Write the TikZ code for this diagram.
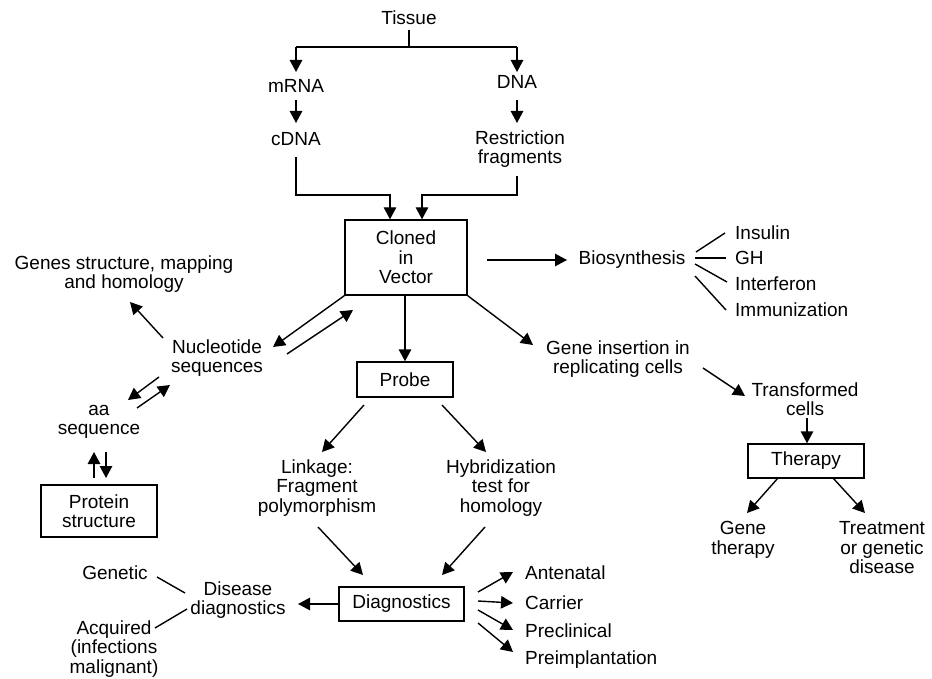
\documentclass[tikz,border=0pt]{standalone}
\usepackage{fontspec}
\setmainfont{Liberation Sans}
\usetikzlibrary{arrows.meta}
\begin{document}
\begin{tikzpicture}[x=1pt,y=-1pt,
  every node/.style={font=\fontsize{19}{19.5}\selectfont, inner sep=0pt, align=center},
  box/.style={draw, line width=1.4pt, inner sep=0pt},
  ln/.style={line width=1.4pt},
  arr/.style={line width=1.4pt, -{Triangle[length=12pt,width=12.5pt]}}]
\useasboundingbox (0,0) rectangle (932,679);
% nodes
\node (tissue) at (409,18) {Tissue};
\node (mrna) at (296,86) {mRNA};
\node (dna) at (517,82) {DNA};
\node (cdna) at (296,139) {cDNA};
\node (restr) at (520,149) {Restriction\\fragments};
\node[box, minimum width=122pt, minimum height=75pt] (clone) at (406,257.5) {Cloned\\in\\Vector};
\node (bio) at (632,260) {Biosynthesis};
\node[anchor=west] (insulin) at (735,233) {Insulin};
\node[anchor=west] (gh) at (735,258) {GH};
\node[anchor=west] (interferon) at (735,284) {Interferon};
\node[anchor=west] (immun) at (735,310) {Immunization};
\node (geneins) at (618,359) {Gene insertion in\\replicating cells};
\node (transf) at (805,399) {Transformed\\cells};
\node[box, minimum width=116pt, minimum height=34pt] (therapy) at (806,461) {Therapy};
\node (genether) at (743,540) {Gene\\therapy};
\node (treat) at (882,548) {Treatment\\or genetic\\disease};
\node[box, minimum width=96pt, minimum height=35pt] (probe) at (405,379.5) {Probe};
\node (genes) at (124,274) {Genes structure, mapping\\and homology};
\node (nuc) at (217,358) {Nucleotide\\sequences};
\node (aa) at (99,422) {aa\\sequence};
\node[box, minimum width=116pt, minimum height=52pt] (protein) at (99,511) {Protein\\structure};
\node (linkage) at (317,488) {Linkage:\\Fragment\\polymorphism};
\node (hybrid) at (501,488) {Hybridization\\test for\\homology};
\node[box, minimum width=125pt, minimum height=34pt] (diag) at (401.5,604) {Diagnostics};
\node (disease) at (238,600) {Disease\\diagnostics};
\node (genetic) at (115,573) {Genetic};
\node (acquired) at (114,649) {Acquired\\(infections\\malignant)};
\node[anchor=west] (antenatal) at (525,573) {Antenatal};
\node[anchor=west] (carrier) at (525,603) {Carrier};
\node[anchor=west] (preclin) at (525,631) {Preclinical};
\node[anchor=west] (preimpl) at (525,660) {Preimplantation};
% connectors
\draw[ln] ([shift={(0,12)}]tissue.center) -- ([shift={(0,29)}]tissue.center);
\draw[arr] ([shift={(-113,29)}]tissue.center) -- ([shift={(0,-14)}]mrna.center);
\draw[arr] ([shift={(108,29)}]tissue.center) -- ([shift={(0,-10)}]dna.center);
\draw[ln] ([shift={(-113,29)}]tissue.center) -- ([shift={(108,29)}]tissue.center);
\draw[arr] ([shift={(0,14)}]mrna.center) -- ([shift={(0,-16)}]cdna.center);
\draw[arr] ([shift={(0,18)}]dna.center) -- ([shift={(-3,-26)}]restr.center);
\draw[arr] ([shift={(0,18)}]cdna.center) |- ([shift={(-16,-62.5)}]clone.center) -- ([xshift=-16]clone.north);
\draw[arr] ([shift={(-3,27)}]restr.center) |- ([shift={(16,-62.5)}]clone.center) -- ([xshift=16]clone.north);
\draw[arr] ([shift={(81,2.5)}]clone.center) -- ([shift={(-65,0)}]bio.center);
\draw[ln] ([shift={(64,-8)}]bio.center) -- ([xshift=-10]insulin.west);
\draw[ln] ([shift={(63,-2)}]bio.center) -- ([xshift=-9]gh.west);
\draw[ln] ([shift={(63,4)}]bio.center) -- ([shift={(-8,-2)}]interferon.west);
\draw[ln] ([shift={(63,16)}]bio.center) -- ([xshift=-9]immun.west);
\draw[arr] (clone.south east) -- ([shift={(-85,-14)}]geneins.center);
\draw[arr] ([shift={(85,9)}]geneins.center) -- ([shift={(-60,-3)}]transf.center);
\draw[arr] ([shift={(2,19)}]transf.center) -- ([xshift=1]therapy.north);
\draw[arr] ([shift={(-28,17)}]therapy.center) -- ([shift={(4,-27)}]genether.center);
\draw[arr] ([shift={(27,17)}]therapy.center) -- ([shift={(-17,-35)}]treat.center);
\draw[arr] ([xshift=-1]clone.south) -- (probe.north);
\draw[arr] (clone.south west) -- ([shift={(56,-11)}]nuc.center);
\draw[arr] ([shift={(70,-4)}]nuc.center) -- ([shift={(-53,52.5)}]clone.center);
\draw[arr] ([shift={(-54,-20)}]nuc.center) -- ([shift={(6,28)}]genes.center);
\draw[arr] ([shift={(-58,19)}]nuc.center) -- ([shift={(29,-22)}]aa.center);
\draw[arr] ([shift={(38,-14)}]aa.center) -- ([shift={(-47,27)}]nuc.center);
\draw[arr] ([shift={(-5,-33)}]protein.center) -- ([shift={(-5,30)}]aa.center);
\draw[arr] ([shift={(7,30)}]aa.center) -- ([shift={(7,-33)}]protein.center);
\draw[arr] ([shift={(-41,25.5)}]probe.center) -- ([shift={(5,-36)}]linkage.center);
\draw[arr] ([shift={(37,25.5)}]probe.center) -- ([shift={(-15,-36)}]hybrid.center);
\draw[arr] ([shift={(1,39)}]linkage.center) -- ([shift={(-38.5,-29)}]diag.center);
\draw[arr] ([shift={(-16,39)}]hybrid.center) -- ([shift={(40.5,-29)}]diag.center);
\draw[arr] (diag.west) -- ([shift={(60,4)}]disease.center);
\draw[ln] ([shift={(42,4)}]genetic.center) -- ([shift={(-53,-7)}]disease.center);
\draw[ln] ([shift={(41,-21)}]acquired.center) -- ([shift={(-51,9)}]disease.center);
\draw[arr] ([shift={(76.5,-12)}]diag.center) -- ([shift={(-12,-1)}]antenatal.west);
\draw[arr] ([shift={(76.5,-3)}]diag.center) -- ([xshift=-12]carrier.west);
\draw[arr] ([shift={(76.5,6)}]diag.center) -- ([shift={(-12,-1)}]preclin.west);
\draw[arr] ([shift={(76.5,19)}]diag.center) -- ([shift={(-12,-8)}]preimpl.west);
\end{tikzpicture}
\end{document}
